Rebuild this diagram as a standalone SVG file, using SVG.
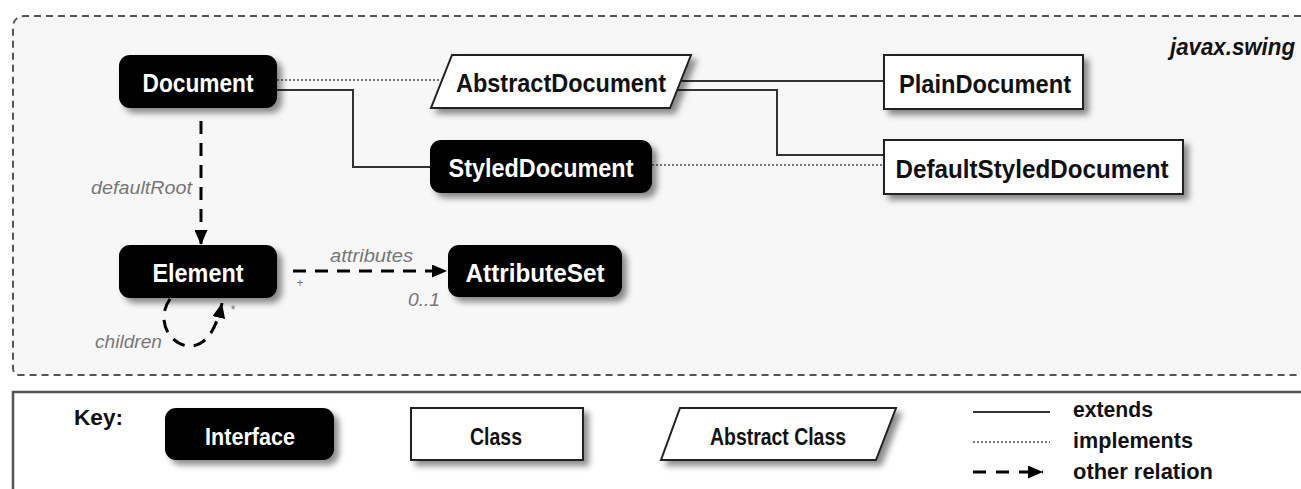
<svg xmlns="http://www.w3.org/2000/svg" width="1301" height="489" viewBox="0 0 1301 489">
<style>
.iface{fill:#000;}
.cls{fill:#fff;stroke:#222;stroke-width:2;}
.lblW{font-family:"Liberation Sans",Arial,sans-serif;font-weight:bold;font-size:26px;fill:#fff;text-anchor:middle;}
.lblB{font-family:"Liberation Sans",Arial,sans-serif;font-weight:bold;font-size:26px;fill:#111;text-anchor:middle;}
.keyW{font-family:"Liberation Sans",Arial,sans-serif;font-weight:bold;font-size:23px;fill:#fff;text-anchor:middle;}
.keyB{font-family:"Liberation Sans",Arial,sans-serif;font-weight:bold;font-size:23px;fill:#111;text-anchor:middle;}
.leg{font-family:"Liberation Sans",Arial,sans-serif;font-weight:bold;font-size:22px;fill:#111;}
.ital{font-family:"Liberation Sans",Arial,sans-serif;font-style:italic;font-size:19px;fill:#777;}
.small{font-family:"Liberation Sans",Arial,sans-serif;font-size:12px;fill:#777;}
.ext{fill:none;stroke:#333;stroke-width:2;}
.impl{fill:none;stroke:#777;stroke-width:2;stroke-dasharray:2 2;}
.rel{fill:none;stroke:#000;stroke-width:3;stroke-dasharray:13 9;}
</style>
<defs>
<filter id="sh" x="-10%" y="-20%" width="130%" height="160%">
<feDropShadow dx="5" dy="5" stdDeviation="3" flood-color="#000" flood-opacity="0.45"/>
</filter>
<marker id="arr" markerUnits="userSpaceOnUse" markerWidth="15" markerHeight="13" refX="15" refY="6.5" orient="auto">
<path d="M0,0 L15,6.5 L0,13 z" fill="#000"/>
</marker>
</defs>
<rect x="0" y="0" width="1301" height="489" fill="#fff"/>
<g id="package">
<path d="M13 368 L13 28 Q13 16 25 16 L1301 16 L1301 375 L20 375 Q13 375 13 368 Z" fill="#f7f7f7" stroke="none"/>
<path d="M1301 16 L25 16 Q13 16 13 28 L13 368 Q13 375 20 375 L1301 375" fill="none" stroke="#555" stroke-width="2" stroke-dasharray="7 5"/>
<text x="1170" y="55" font-family="Liberation Sans,Arial,sans-serif" font-weight="bold" font-style="italic" font-size="23" fill="#111" textLength="125" lengthAdjust="spacingAndGlyphs">javax.swing</text>
</g>
<g id="connectors">
<path class="impl" d="M277 80 L442 80"/>
<path class="ext" d="M277 90 L353 90 L353 167 L430 167"/>
<path class="ext" d="M681 81 L884 81"/>
<path class="ext" d="M677 90 L777 90 L777 155 L884 155"/>
<path class="impl" d="M652 165 L884 165"/>
<path class="rel" d="M201 121 L201 245" marker-end="url(#arr)"/>
<text class="ital" x="192" y="194" text-anchor="end" textLength="101" lengthAdjust="spacingAndGlyphs">defaultRoot</text>
<path class="rel" d="M293 271 L447 271" marker-end="url(#arr)"/>
<text class="ital" x="330" y="262" textLength="83" lengthAdjust="spacingAndGlyphs">attributes</text>
<text class="small" x="300" y="287" text-anchor="middle">+</text>
<text class="ital" x="424" y="306" text-anchor="middle" textLength="32" lengthAdjust="spacingAndGlyphs">0..1</text>
<path class="rel" d="M170 299 C155 320 170 346 190 346 C206 346 216 330 222 303" marker-end="url(#arr)"/>
<text class="ital" x="95" y="348" textLength="67" lengthAdjust="spacingAndGlyphs">children</text>
<text class="small" x="233" y="314" text-anchor="middle">*</text>
</g>
<g id="Document">
<rect class="iface" x="119" y="55" width="158" height="53" rx="11" filter="url(#sh)"/>
<text class="lblW" x="198" y="92" textLength="111" lengthAdjust="spacingAndGlyphs">Document</text>
</g>
<g id="AbstractDocument">
<polygon class="cls" points="452,55 691,55 670,108 431,108" filter="url(#sh)"/>
<text class="lblB" x="561" y="92" textLength="210" lengthAdjust="spacingAndGlyphs">AbstractDocument</text>
</g>
<g id="PlainDocument">
<rect class="cls" x="884" y="55" width="199" height="54" filter="url(#sh)"/>
<text class="lblB" x="985" y="93" textLength="172" lengthAdjust="spacingAndGlyphs">PlainDocument</text>
</g>
<g id="StyledDocument">
<rect class="iface" x="430" y="140" width="222" height="53" rx="11" filter="url(#sh)"/>
<text class="lblW" x="541" y="177" textLength="185" lengthAdjust="spacingAndGlyphs">StyledDocument</text>
</g>
<g id="DefaultStyledDocument">
<rect class="cls" x="884" y="140" width="299" height="54" filter="url(#sh)"/>
<text class="lblB" x="1032" y="178" textLength="273" lengthAdjust="spacingAndGlyphs">DefaultStyledDocument</text>
</g>
<g id="Element">
<rect class="iface" x="119" y="245" width="158" height="53" rx="11" filter="url(#sh)"/>
<text class="lblW" x="198" y="282" textLength="91" lengthAdjust="spacingAndGlyphs">Element</text>
</g>
<g id="AttributeSet">
<rect class="iface" x="448" y="245" width="174" height="52" rx="11" filter="url(#sh)"/>
<text class="lblW" x="535" y="282" textLength="139" lengthAdjust="spacingAndGlyphs">AttributeSet</text>
</g>
<g id="key">
<path d="M13 489 L13 392 L1301 392" fill="none" stroke="#555" stroke-width="2.5"/>
<text class="leg" x="74" y="425" font-size="23" textLength="49" lengthAdjust="spacingAndGlyphs">Key:</text>
<g id="key-interface">
<rect class="iface" x="165" y="408" width="169" height="52" rx="11" filter="url(#sh)"/>
<text class="keyW" x="250" y="445" textLength="90" lengthAdjust="spacingAndGlyphs">Interface</text>
</g>
<g id="key-class">
<rect class="cls" x="411" y="408" width="172" height="52" filter="url(#sh)"/>
<text class="keyB" x="496" y="445" textLength="52" lengthAdjust="spacingAndGlyphs">Class</text>
</g>
<g id="key-abstract">
<polygon class="cls" points="680,408 896,408 876,460 661,460" filter="url(#sh)"/>
<text class="keyB" x="778" y="445" textLength="136" lengthAdjust="spacingAndGlyphs">Abstract Class</text>
</g>
<path class="ext" d="M973 412 L1050 412"/>
<text class="leg" x="1073" y="417" textLength="80" lengthAdjust="spacingAndGlyphs">extends</text>
<path class="impl" d="M973 442 L1050 442"/>
<text class="leg" x="1073" y="448" textLength="120" lengthAdjust="spacingAndGlyphs">implements</text>
<path d="M973 472 L1043 472" fill="none" stroke="#000" stroke-width="3" stroke-dasharray="13 10" marker-end="url(#arr)"/>
<text class="leg" x="1073" y="479" textLength="140" lengthAdjust="spacingAndGlyphs">other relation</text>
</g>
</svg>
